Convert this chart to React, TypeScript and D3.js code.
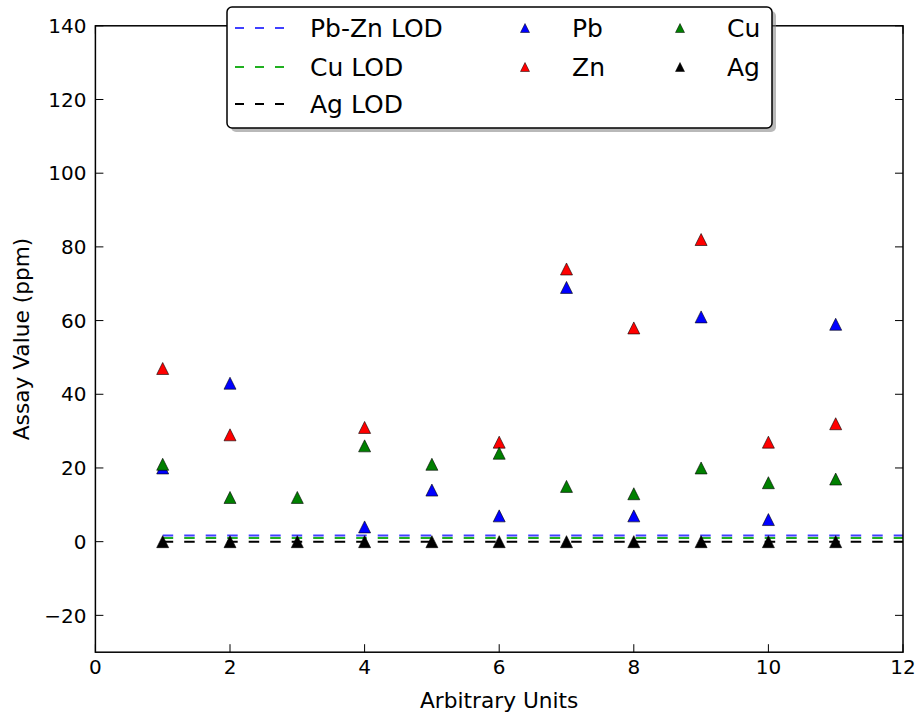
import React from "react";
import * as d3 from "d3";

const xValues = [1, 2, 3, 4, 5, 6, 7, 8, 9, 10, 11];
const pbValues: (number | null)[] = [20, 43, null, 4, 14, 7, 69, 7, 61, 6, 59];
const znValues: (number | null)[] = [47, 29, null, 31, null, 27, 74, 58, 82, 27, 32];
const cuValues: (number | null)[] = [21, 12, 12, 26, 21, 24, 15, 13, 20, 16, 17];
const agValues: (number | null)[] = [0, 0, 0, 0, 0, 0, 0, 0, 0, 0, 0];

const lodNames = ["Pb-Zn LOD", "Cu LOD", "Ag LOD"];
const lodValues = [1.7, 1, 0];
const lodColors = ["#4040ff", "#20b020", "#000000"];
const lodRange = [1, 12];

const seriesNames = ["Pb", "Zn", "Cu", "Ag"];
const seriesColors = ["#0000ff", "#ff0000", "#008000", "#000000"];
const seriesData = [pbValues, znValues, cuValues, agValues];

const xTicks = [0, 2, 4, 6, 8, 10, 12];
const yTicks = [-20, 0, 20, 40, 60, 80, 100, 120, 140];

const W = 918;
const H = 717;
const left = 95.4;
const right = 903;
const top = 25.8;
const bottom = 652.2;

const FONT = "'DejaVu Sans', sans-serif";

function tri(cx: number, cy: number, r: number) {
  return `M${cx},${cy - r}L${cx - r},${cy + r}L${cx + r},${cy + r}Z`;
}

export default function App() {
  const x = d3.scaleLinear().domain([0, 12]).range([left, right]);
  const y = d3.scaleLinear().domain([-30, 140]).range([bottom, top]);
  const line = d3.line<[number, number]>().x((d) => x(d[0])).y((d) => y(d[1]));

  const tickLen = 8;

  // legend layout
  const lg = { x: 227, y: 7, w: 545, h: 121 };
  const rowsY = [28, 67, 104];
  const markerCols = [525, 680];
  const textCols = [572, 727];

  return (
    <svg
      width={W}
      height={H}
      style={{ position: "absolute", left: 0, top: 0, background: "#fff" }}
      fontFamily={FONT}
    >
      <rect x={0} y={0} width={W} height={H} fill="#fff" />
      <defs>
        <clipPath id="plotclip">
          <rect x={left} y={top} width={right - left} height={bottom - top} />
        </clipPath>
      </defs>

      {/* LOD lines */}
      <g clipPath="url(#plotclip)">
        {lodValues.map((v, i) => (
          <path
            key={lodNames[i]}
            d={line([
              [lodRange[0], v],
              [lodRange[1], v],
            ]) || ""}
            stroke={lodColors[i]}
            strokeWidth={2}
            strokeDasharray="10.5,11"
            fill="none"
          />
        ))}
      </g>

      {/* points */}
      <g clipPath="url(#plotclip)">
        {seriesData.map((vals, si) =>
          vals.map((v, i) =>
            v === null ? null : (
              <path
                key={`${seriesNames[si]}-${i}`}
                d={tri(x(xValues[i]), y(v), 6)}
                fill={seriesColors[si]}
                stroke="#000"
                strokeWidth={0.6}
              />
            )
          )
        )}
      </g>

      {/* frame */}
      <rect
        x={left}
        y={top}
        width={right - left}
        height={bottom - top}
        fill="none"
        stroke="#000"
        strokeWidth={1.5}
      />

      {/* x ticks */}
      {xTicks.map((t) => (
        <g key={`xt${t}`}>
          <line x1={x(t)} x2={x(t)} y1={bottom} y2={bottom - tickLen} stroke="#000" strokeWidth={1} />
          <line x1={x(t)} x2={x(t)} y1={top} y2={top + tickLen} stroke="#000" strokeWidth={1} />
          <text x={x(t)} y={bottom + 22} textAnchor="middle" fontSize={20} fill="#000">
            {t}
          </text>
        </g>
      ))}

      {/* y ticks */}
      {yTicks.map((t) => (
        <g key={`yt${t}`}>
          <line x1={left} x2={left + tickLen} y1={y(t)} y2={y(t)} stroke="#000" strokeWidth={1} />
          <line x1={right} x2={right - tickLen} y1={y(t)} y2={y(t)} stroke="#000" strokeWidth={1} />
          <text
            x={left - 9}
            y={y(t)}
            dy="0.36em"
            textAnchor="end"
            fontSize={20}
            fill="#000"
          >
            {t < 0 ? `\u2212${Math.abs(t)}` : t}
          </text>
        </g>
      ))}

      {/* axis labels */}
      <text x={(left + right) / 2} y={708} textAnchor="middle" fontSize={21.7} fill="#000">
        Arbitrary Units
      </text>
      <text
        transform={`translate(29, ${(top + bottom) / 2}) rotate(-90)`}
        textAnchor="middle"
        fontSize={21.7}
        fill="#000"
      >
        Assay Value (ppm)
      </text>

      {/* legend */}
      <rect x={lg.x + 4} y={lg.y + 4} width={lg.w} height={lg.h} rx={5} fill="#808080" opacity={0.55} />
      <rect x={lg.x} y={lg.y} width={lg.w} height={lg.h} rx={5} fill="#fff" stroke="#000" strokeWidth={1.5} />
      {lodNames.map((n, i) => (
        <g key={`lg-${n}`}>
          <line
            x1={235}
            x2={289}
            y1={rowsY[i]}
            y2={rowsY[i]}
            stroke={lodColors[i]}
            strokeWidth={2}
            strokeDasharray="9,11"
          />
          <text x={310} y={rowsY[i]} dy="0.36em" fontSize={25} fill="#000">
            {n}
          </text>
        </g>
      ))}
      {seriesNames.map((n, i) => {
        const col = Math.floor(i / 2);
        const row = i % 2;
        return (
          <g key={`lg-${n}`}>
            <path
              d={tri(markerCols[col], rowsY[row], 4.5)}
              fill={seriesColors[i]}
              stroke="#000"
              strokeWidth={0.5}
            />
            <text x={textCols[col]} y={rowsY[row]} dy="0.36em" fontSize={25} fill="#000">
              {n}
            </text>
          </g>
        );
      })}
    </svg>
  );
}
